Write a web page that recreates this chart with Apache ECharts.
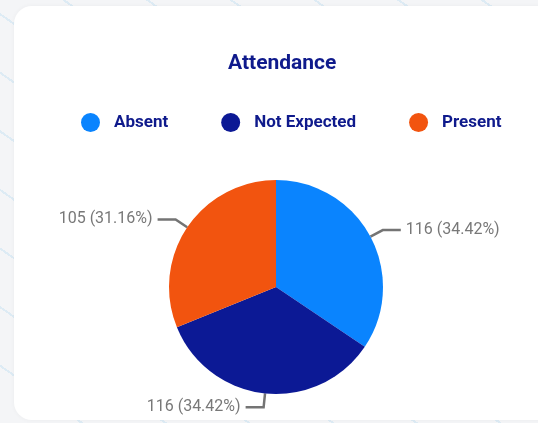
<!DOCTYPE html>
<html>
<head>
<meta charset="utf-8">
<script src="https://cdn.jsdelivr.net/npm/echarts@6/dist/echarts.min.js"></script>
<style>
  html, body {
    margin: 0;
    padding: 0;
    width: 538px;
    height: 423px;
    overflow: hidden;
    background: #f4f5f7;
  }
  .bg {
    position: absolute;
    left: 0;
    top: 0;
    width: 538px;
    height: 423px;
    background: repeating-linear-gradient(35deg, rgba(255,255,255,0) 0px, rgba(255,255,255,0) 46px, rgba(140,200,235,0.22) 46px, rgba(140,200,235,0.22) 48px);
  }
  .card {
    position: absolute;
    left: 14px;
    top: 6px;
    width: 560px;
    height: 414px;
    background: #fff;
    border-radius: 18px;
    box-shadow: 0 0 5px rgba(0, 0, 0, 0.04);
  }
  #chart {
    position: absolute;
    left: 0;
    top: 0;
    width: 538px;
    height: 423px;
  }
</style>
</head>
<body>
<div class="bg"></div>
<div class="card"></div>
<div id="chart"></div>
<script>
// attendance counts
const categories = ['Absent', 'Not Expected', 'Present']
const counts = [116, 116, 105]
const colors = ['#0a84fe', '#0c1995', '#f2540f']

const chart = echarts.init(document.getElementById('chart'))

chart.setOption({
  animation: false,
  title: {
    text: 'Attendance',
    left: 223,
    top: 48,
    textStyle: { fontFamily: 'Roboto', fontSize: 21, fontWeight: 'bold', color: '#0f1a8c' },
  },
  legend: {
    data: categories,
    left: 76,
    top: 108,
    icon: 'circle',
    itemWidth: 19,
    itemHeight: 19,
    itemGap: 53,
    textStyle: {
      fontFamily: 'Roboto',
      fontSize: 17,
      fontWeight: 'bold',
      color: '#0f1a8c',
      padding: [0, 0, 0, 9],
    },
  },
  series: [
    {
      type: 'pie',
      center: [276, 287],
      radius: 107,
      startAngle: 90,
      clockwise: true,
      data: categories.map((name, i) => ({
        name,
        value: counts[i],
        itemStyle: { color: colors[i] },
      })),
      label: {
        show: true,
        fontFamily: 'Roboto',
        fontSize: 16,
        color: '#787878',
        formatter: (p) => `${p.value} (${p.percent.toFixed(2)}%)`,
      },
      labelLine: {
        show: true,
        length: 14,
        length2: 18,
        lineStyle: { color: '#747474', width: 2.5 },
      },
      percentPrecision: 2,
    },
  ],
})
</script>
</body>
</html>
